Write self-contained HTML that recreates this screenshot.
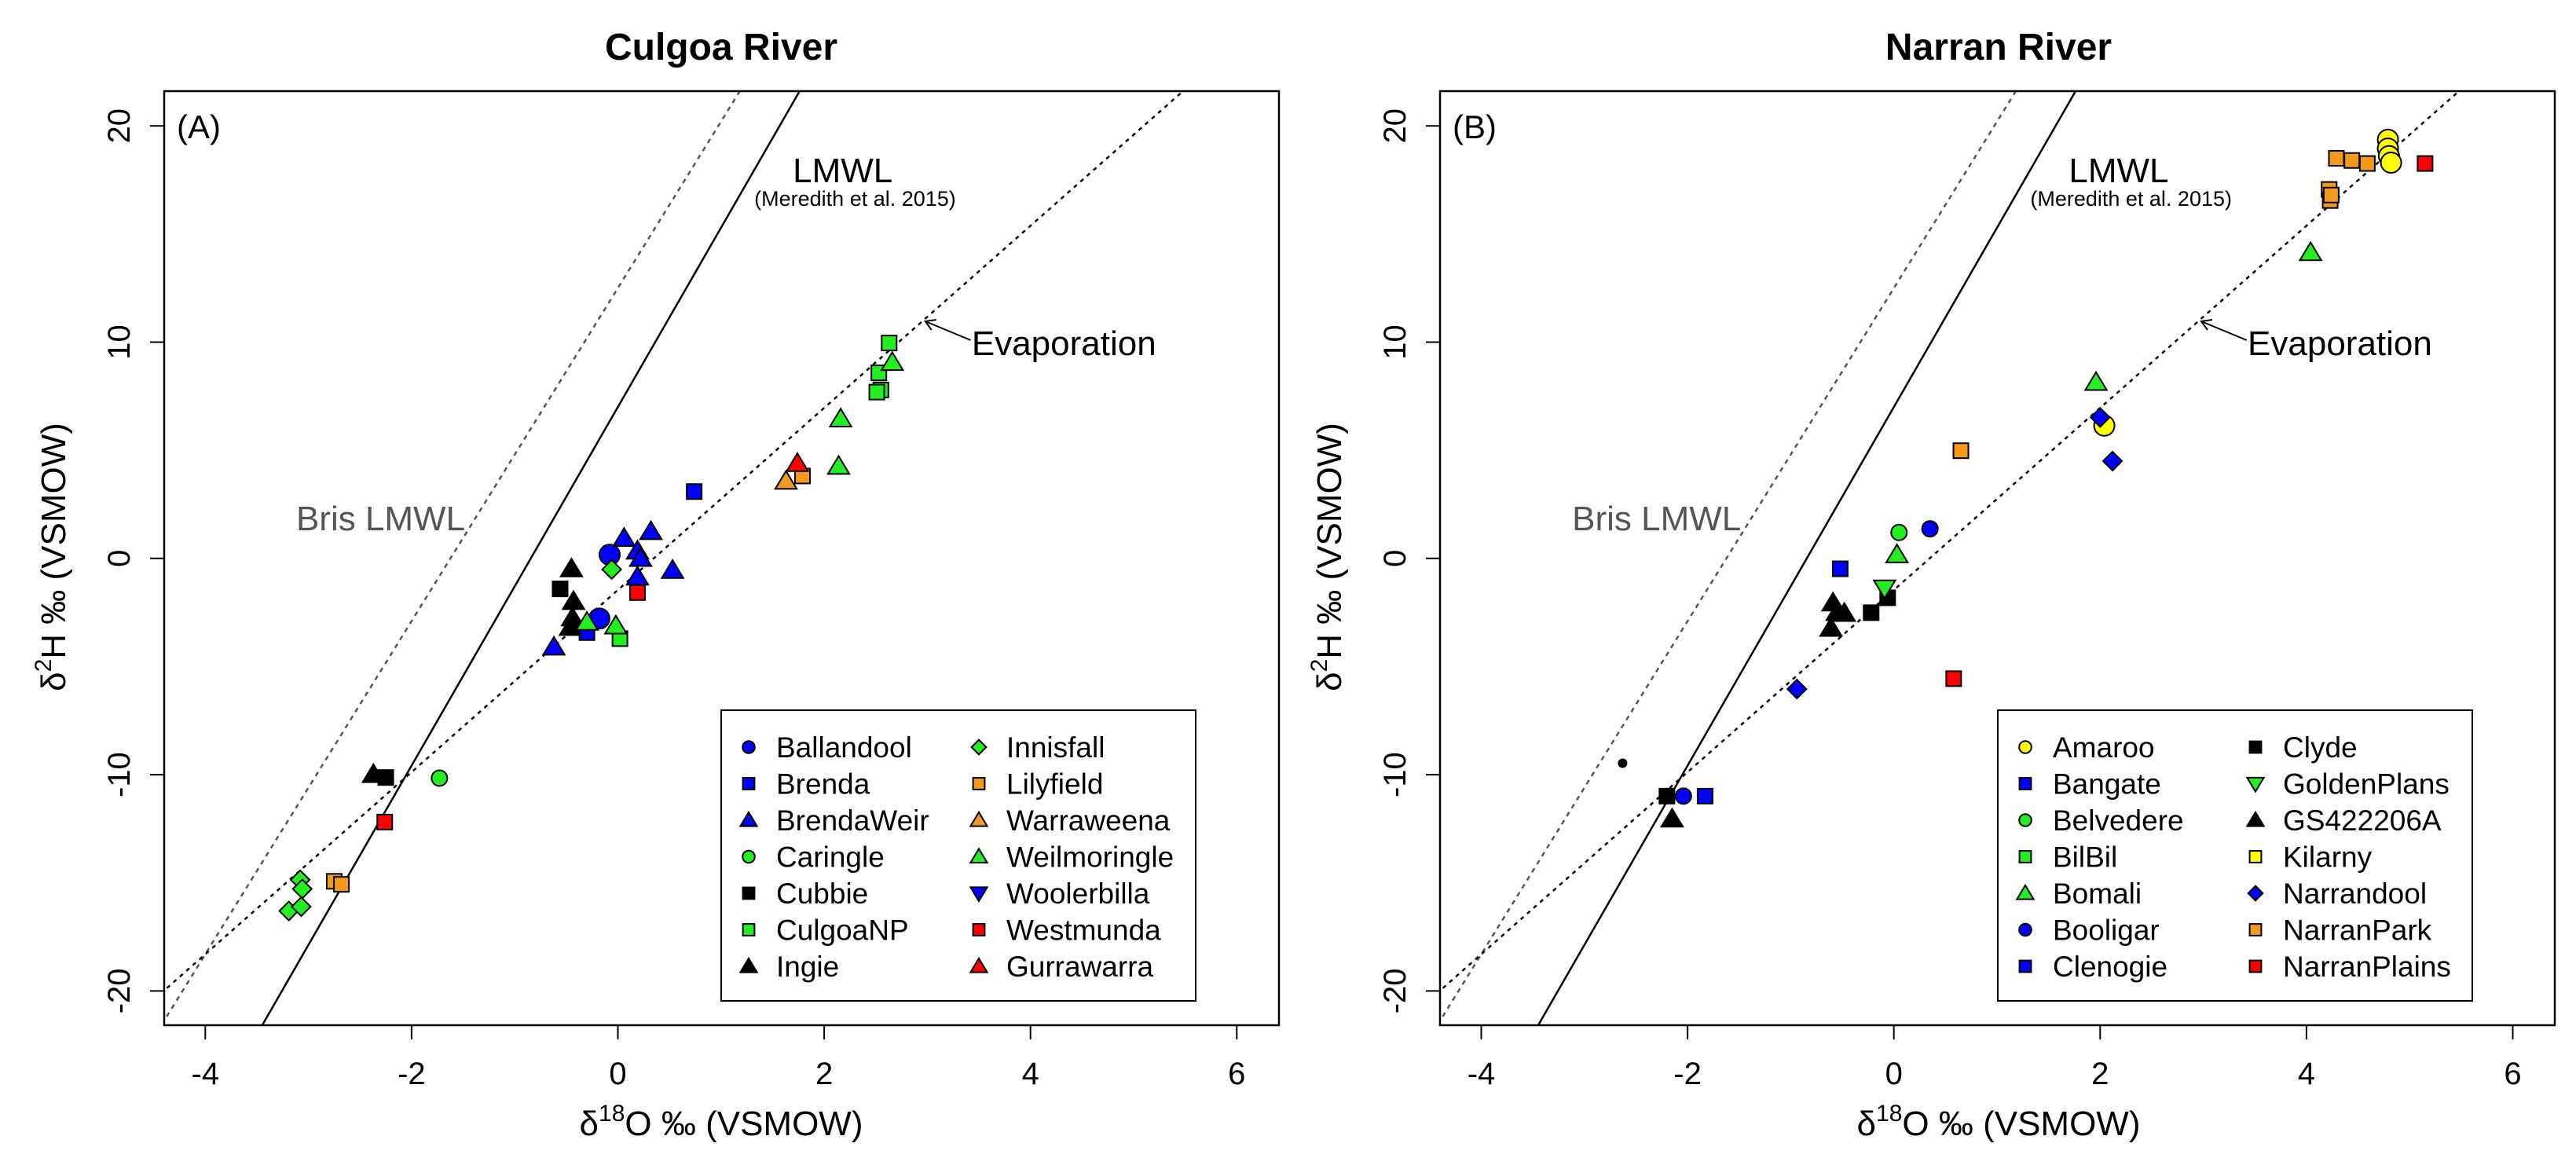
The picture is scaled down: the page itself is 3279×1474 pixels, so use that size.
<!DOCTYPE html>
<html><head><meta charset="utf-8"><style>
html,body{margin:0;padding:0;background:#fff;overflow:hidden;width:3279px;height:1474px}
svg{display:block;position:absolute;left:0;top:0;font-family:"Liberation Sans",Arial,sans-serif;overflow:hidden}
</style></head><body>
<svg id="chart" width="3279" height="1474" viewBox="0 0 3279 1474" xmlns="http://www.w3.org/2000/svg"></svg>
<script>
const xTicks=[-4,-2,0,2,4,6];
const yTicks=[-20,-10,0,10,20];
const lmwl=[8.29,7.0];
const brisLmwl=[7.70,12.5];
const evapLine=[4.21,-1.46];

const culgoaNames=["Ballandool","Brenda","BrendaWeir","Caringle","Cubbie","CulgoaNP","Ingie","Innisfall","Lilyfield","Warraweena","Weilmoringle","Woolerbilla","Westmunda","Gurrawarra"];
const culgoaX=[[-0.08,-0.18],[0.74,-0.30],[-0.62,0.06,0.32,0.19,0.22,0.19,0.53],[-1.73],[-0.56,-2.25],[2.63,2.53,2.55,2.51,0.02],[-0.45,-0.43,-0.44,-0.46,-2.37],[-0.06,-3.08,-3.06,-3.19,-3.07],[1.79,-2.75,-2.68],[1.63],[2.66,2.16,2.14,-0.02,-0.30],[],[0.19,-2.26],[1.74]];
const culgoaY=[[0.17,-2.78],[3.09,-3.43],[-4.1,0.93,1.24,0.34,0,-0.86,-0.55],[-10.16],[-1.41,-10.13],[9.96,8.58,7.79,7.69,-3.71],[-0.48,-1.99,-2.75,-3.19,-9.99],[-0.51,-14.86,-15.28,-16.3,-16.1],[3.81,-14.93,-15.07],[3.57],[9.06,6.45,4.26,-3.12,-2.95],[],[-1.58,-12.19],[4.39]];
const culgoaShape=["circle","square","tri","circle","square","square","tri","diamond","square","tri","tri","itri","square","tri"];
const culgoaColor=["#0000ff","#0000ff","#0000ff","#22ee22","#000","#22ee22","#000","#22ee22","#f39a1e","#f39a1e","#22ee22","#0000ff","#ff0000","#ff0000"];

const narranNames=["Amaroo","Bangate","Belvedere","BilBil","Bomali","Booligar","Clenogie","Clyde","GoldenPlans","GS422206A","Kilarny","Narrandool","NarranPark","NarranPlains"];
const narranX=[[4.79,4.79,4.80,4.82,2.04],[-0.52],[0.05],[],[4.04,1.96,0.03],[0.35,-2.04],[-1.83],[-0.22,-0.06,-2.20],[-0.09],[-0.59,-0.55,-0.48,-0.61,-2.15],[],[2.0,2.12,-0.94],[0.65,4.29,4.44,4.59,4.22,4.23,4.24],[5.15,0.58]];
const narranY=[[19.36,18.95,18.6,18.3,6.14],[-0.48],[1.2],[],[14.14,8.14,0.17],[1.37,-10.99],[-10.99],[-2.51,-1.82,-10.99],[-1.37],[-2.06,-2.5,-2.54,-3.23,-12.05],[],[6.52,4.5,-6.04],[4.98,18.5,18.4,18.26,17.06,16.55,16.8],[18.26,-5.56]];
const narranShape=["circle","square","circle","square","tri","circle","square","square","itri","tri","square","diamond","square","square"];
const narranColor=["#ffff00","#0000ff","#22ee22","#22ee22","#22ee22","#0000ff","#0000ff","#000","#22ee22","#000","#ffff00","#0000ff","#f39a1e","#ff0000"];
const extraX=[-2.63], extraY=[-9.47];

const NS="http://www.w3.org/2000/svg";
const svg=document.getElementById('chart');
function mk(tag,attrs,parent){const e=document.createElementNS(NS,tag);for(const k in attrs)e.setAttribute(k,attrs[k]);(parent||svg).appendChild(e);return e;}
function txt(s,attrs,parent){const e=mk('text',attrs,parent);e.textContent=s;return e;}

function symbol(g,shape,cx,cy,fill,big,sz){
  let e;const s=sz||1;
  if(shape==="circle"){e=mk('circle',{cx:cx,cy:cy,r:(big?13:10)*s,fill:fill,stroke:'#000','stroke-width':2},g);}
  else if(shape==="square"){const h=9.5*s;e=mk('rect',{x:cx-h,y:cy-h,width:2*h,height:2*h,fill:fill,stroke:'#000','stroke-width':2},g);}
  else if(shape==="tri"){const h=13*s;e=mk('polygon',{points:`${cx},${cy-h} ${cx+h*1.05},${cy+h*0.75} ${cx-h*1.05},${cy+h*0.75}`,fill:fill,stroke:'#000','stroke-width':2},g);}
  else if(shape==="itri"){const h=13*s;e=mk('polygon',{points:`${cx},${cy+h} ${cx+h*1.05},${cy-h*0.75} ${cx-h*1.05},${cy-h*0.75}`,fill:fill,stroke:'#000','stroke-width':2},g);}
  else {const h=12*s;e=mk('polygon',{points:`${cx},${cy-h} ${cx+h},${cy} ${cx},${cy+h} ${cx-h},${cy}`,fill:fill,stroke:'#000','stroke-width':2},g);}
  return e;
}

function panel(o){
  const g=mk('g',{});
  
  
  const L=o.left,R=o.right,T=116,B=1305;
  const sx=v=>o.x0+v*131.3, sy=v=>710.8-v*27.53;
  const cp=mk('clipPath',{id:'clip-'+o.id},g);mk('rect',{x:L,y:T,width:R-L,height:B-T},cp);
  const lines=mk('g',{'clip-path':`url(#clip-${o.id})`},g);
  const xa=-5,xb=7;
  const ln=(c)=>mk('line',{x1:sx(xa),y1:sy(c[0]*xa+c[1]),x2:sx(xb),y2:sy(c[0]*xb+c[1])},lines);
  let l=ln(brisLmwl);l.setAttribute('stroke','#555');l.setAttribute('stroke-width',2.5);l.setAttribute('stroke-dasharray','6 6');
  
  l=ln(lmwl);l.setAttribute('stroke','#000');l.setAttribute('stroke-width',2.5);
  
  l=ln(evapLine);l.setAttribute('stroke','#000');l.setAttribute('stroke-width',2.5);l.setAttribute('stroke-dasharray','5 6');
  
  const pg=mk('g',{'clip-path':`url(#clip-${o.id})`},g);
  
  for(let i=0;i<o.names.length;i++){
    const n=Math.min(o.xs[i].length,o.ys[i].length);
    for(let j=0;j<n;j++){
      const e=symbol(pg,o.shapes[i],sx(o.xs[i][j]),sy(o.ys[i][j]),o.colors[i],o.shapes[i]==="circle"&&(o.names[i]==="Ballandool"||o.names[i]==="Amaroo"));
      
      
    }
  }
  if(o.extra){for(let j=0;j<extraX.length;j++){const e=mk('circle',{cx:sx(extraX[j]),cy:sy(extraY[j]),r:6,fill:'#000'},pg);
    }}
  const bx=mk('rect',{x:L,y:T,width:R-L,height:B-T,fill:'none',stroke:'#000','stroke-width':2.5},g);
  
  xTicks.forEach(v=>{const x=sx(v);mk('line',{x1:x,y1:B,x2:x,y2:B+18,stroke:'#000','stroke-width':2},g);
    const t=txt(String(v),{x:x,y:1380,'font-size':40,'text-anchor':'middle'},g);
    });
  yTicks.forEach(v=>{const y=sy(v);mk('line',{x1:L,y1:y,x2:L-18,y2:y,stroke:'#000','stroke-width':2},g);
    const t=txt(String(v),{x:0,y:0,'font-size':40,'text-anchor':'middle',transform:`translate(${o.left-44},${y}) rotate(-90)`},g);
    });
  let t=txt(o.title,{x:o.titleX,y:76,'font-size':48,'font-weight':'bold','text-anchor':'middle'},g);
  
  t=mk('text',{x:o.titleX,y:1445,'font-size':44,'text-anchor':'middle'},g);
  t.innerHTML='δ<tspan font-size="30" dy="-18">18</tspan><tspan dy="18">O ‰ (VSMOW)</tspan>';
  
  t=mk('text',{'font-size':44,'text-anchor':'middle',transform:`translate(${o.left-126},709) rotate(-90)`},g);
  t.innerHTML='δ<tspan font-size="30" dy="-18">2</tspan><tspan dy="18">H ‰ (VSMOW)</tspan>';
  
  t=txt(o.tag,{x:o.left+16,y:176,'font-size':42},g);
  
  t=txt('LMWL',{x:sx(2.18),y:232,'font-size':44,'text-anchor':'middle'},g);
  
  t=txt('(Meredith et al. 2015)',{x:sx(2.30),y:262,'font-size':27,'text-anchor':'middle'},g);
  
  t=txt('Evaporation',{x:sx(3.43),y:452,'font-size':44},g);
  
  mk('line',{x1:sx(3.42),y1:433,x2:sx(2.98),y2:409,stroke:'#000','stroke-width':2},g);
  mk('polyline',{points:`${sx(2.98)+14},${409-2} ${sx(2.98)},${409} ${sx(2.98)+8},${409+11}`,fill:'none',stroke:'#000','stroke-width':2},g);
  t=txt('Bris LMWL',{x:sx(-2.3),y:675,'font-size':44,'text-anchor':'middle',fill:'#555'},g);
  
  const lg=mk('g',{},g);
  mk('rect',{x:o.legX,y:904,width:604,height:370,fill:'#fff',stroke:'#000','stroke-width':2},lg);
  for(let i=0;i<o.names.length;i++){
    const col=Math.floor(i/7),row=i%7;
    const sxp=o.legX+35+col*293, yy=951+row*46.5;
    symbol(lg,o.shapes[i],sxp,yy,o.colors[i],false,0.78);
    const e=txt(o.names[i],{x:sxp+35,y:yy+13,'font-size':37},lg);
    
    
  }
}
panel({id:'culgoa',left:209,right:1628,x0:786.5,title:'Culgoa River',titleX:918,tag:'(A)',names:culgoaNames,xs:culgoaX,ys:culgoaY,shapes:culgoaShape,colors:culgoaColor,legX:918});
panel({id:'narran',left:1833,right:3252,x0:2410.7,title:'Narran River',titleX:2544,tag:'(B)',names:narranNames,xs:narranX,ys:narranY,shapes:narranShape,colors:narranColor,legX:2543,extra:true});
</script>
</body></html>
